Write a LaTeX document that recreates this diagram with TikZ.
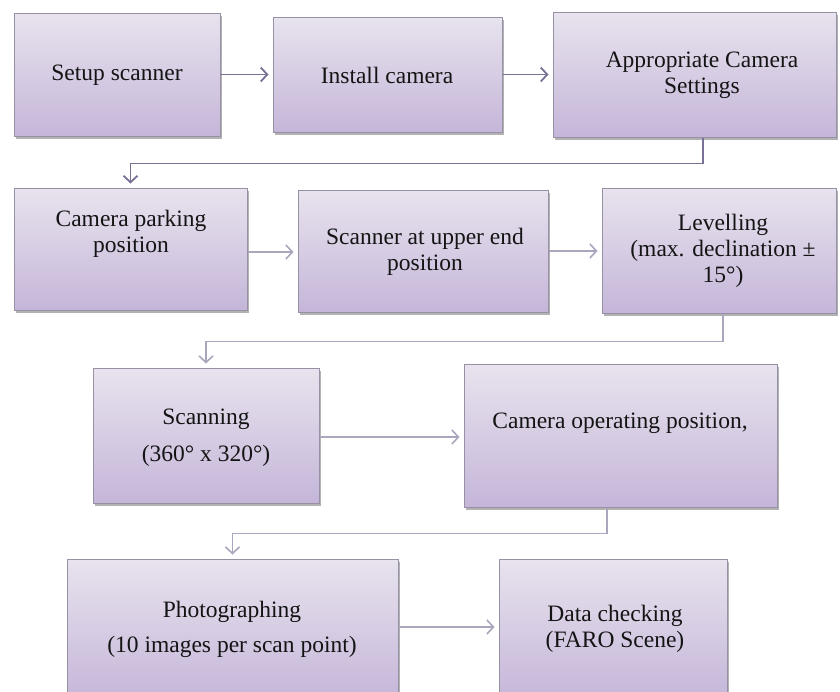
\documentclass[tikz,border=0pt]{standalone}
\usepackage{fontspec}
\setmainfont{Liberation Serif}
\usetikzlibrary{arrows.meta,shadows,calc}
\definecolor{boxtop}{HTML}{E8E3EE}
\definecolor{boxbot}{HTML}{C5B6D9}
\definecolor{boxline}{HTML}{9691A5}
\definecolor{arrowdark}{HTML}{7A7096}
\definecolor{arrowlight}{HTML}{ABA5BD}
\tikzset{
  stepbox/.style={rectangle, draw=boxline, line width=1pt, top color=boxtop, bottom color=boxbot,
    drop shadow={shadow xshift=2pt, shadow yshift=-2.5pt, opacity=0.5, fill=black!60}, inner sep=0pt},
  txt/.style={align=center, font=\fontsize{23.5}{26}\selectfont, text=black!92, inner sep=0pt},
  connd/.style={draw=arrowdark, line width=1.8pt, -{Straight Barb[length=6.5pt,width=14pt]}, shorten >=4pt},
  connl/.style={draw=arrowlight, line width=1.6pt, -{Straight Barb[length=6.5pt,width=14pt]}, shorten >=4pt}
}
\begin{document}
\begin{tikzpicture}[x=1pt,y=-1pt]
\useasboundingbox (0,0) rectangle (840,691);
\clip (0,0) rectangle (840,691);
% boxes
\node[stepbox, minimum width=206pt, minimum height=123pt] (A) at (117,74.5) {};
\node[stepbox, minimum width=229pt, minimum height=115pt] (B) at (387.5,74.5) {};
\node[stepbox, minimum width=283pt, minimum height=125pt] (C) at (694.5,74.5) {};
\node[stepbox, minimum width=233pt, minimum height=122pt] (D) at (130.5,249) {};
\node[stepbox, minimum width=250pt, minimum height=122pt] (E) at (423,251) {};
\node[stepbox, minimum width=234pt, minimum height=125pt] (F) at (719,250.5) {};
\node[stepbox, minimum width=226pt, minimum height=135pt] (G) at (206,435.5) {};
\node[stepbox, minimum width=313pt, minimum height=143pt] (H) at (620.5,435.5) {};
\node[stepbox, minimum width=331pt, minimum height=141pt] (I) at (232.5,629.5) {};
\node[stepbox, minimum width=228pt, minimum height=141pt] (J) at (613,629.5) {};
% texts
\node[txt] (At) at (117,75) {Setup scanner};
\node[txt] (Bt) at (387,75) {Install camera};
\node[txt] (Ct) at (702,75) {Appropriate Camera\\Settings};
\node[txt] (Dt) at (131,233.5) {Camera parking\\position};
\node[txt] (Et) at (425,251.5) {Scanner at upper end\\position};
\node[txt] (Ft) at (723,251) {Levelling\\(max. declination ±\\15°)};
\node[txt, font=\fontsize{23.5}{37}\selectfont] (Gt) at (206,438) {Scanning\\(360° x 320°)};
\node[txt] (Ht) at (620,423) {Camera operating position,};
\node[txt, font=\fontsize{23.5}{35}\selectfont] (It) at (232,629.5) {Photographing\\(10 images per scan point)};
\node[txt] (Jt) at (615,629) {Data checking\\(FARO Scene)};
% connectors
\draw[connd] (A.east) -- (B.west);
\draw[connd] (B.east) -- (C.west);
\draw[connd] ([xshift=8.5pt]C.south) -- ++(0,26) -| (D.north);
\draw[connl] ([yshift=-3pt]D.east) -- ([yshift=-3pt]D.east -| E.west);
\draw[connl] (E.east) -- (E.east -| F.west);
\draw[connl] ([xshift=4pt]F.south) -- ++(0,28) -| (G.north);
\draw[connl] ([yshift=-1.5pt]G.east) -- ([yshift=-1.5pt]G.east -| H.west);
\draw[connl] ([xshift=-13.5pt]H.south) -- ++(0,26) -| (I.north);
\draw[connl] ([yshift=2.5pt]I.east) -- ([yshift=2.5pt]I.east -| J.west);
\end{tikzpicture}
\end{document}
